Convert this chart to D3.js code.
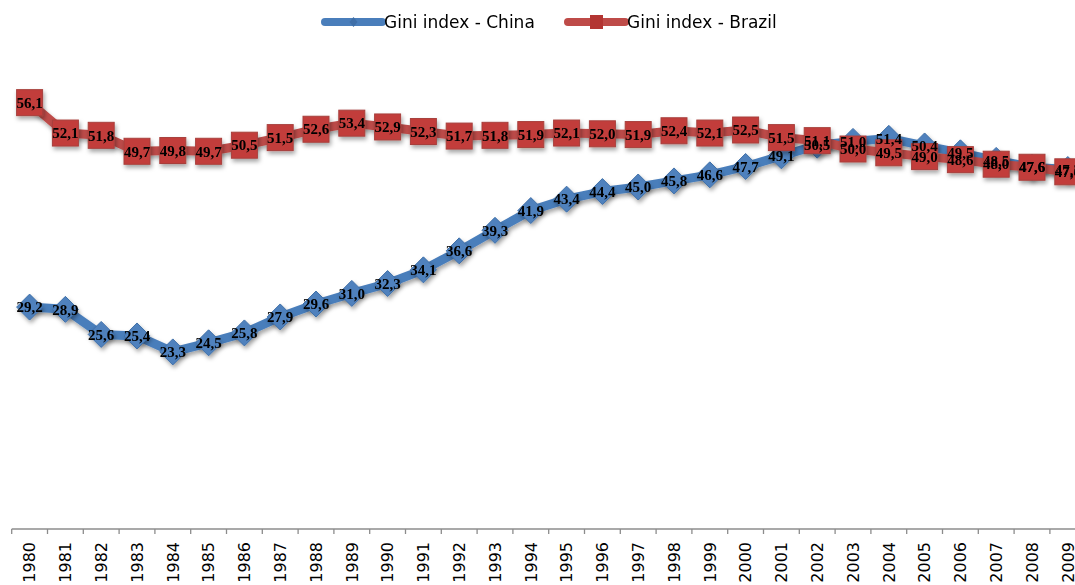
<!DOCTYPE html>
<html>
<head>
<meta charset="utf-8">
<script src="https://cdn.jsdelivr.net/npm/d3@7"></script>
<style>
  body { margin: 0; background: #fff; overflow: hidden; }
  svg { display: block; }
</style>
</head>
<body>
<div id="chart"></div>
<script>
const years = ["1980","1981","1982","1983","1984","1985","1986","1987","1988","1989",
  "1990","1991","1992","1993","1994","1995","1996","1997","1998","1999",
  "2000","2001","2002","2003","2004","2005","2006","2007","2008","2009"];
const giniChina = [29.2,28.9,25.6,25.4,23.3,24.5,25.8,27.9,29.6,31.0,
  32.3,34.1,36.6,39.3,41.9,43.4,44.4,45.0,45.8,46.6,
  47.7,49.1,50.5,51.0,51.4,50.4,49.5,48.5,47.6,47.3];
const giniBrazil = [56.1,52.1,51.8,49.7,49.8,49.7,50.5,51.5,52.6,53.4,
  52.9,52.3,51.7,51.8,51.9,52.1,52.0,51.9,52.4,52.1,
  52.5,51.5,51.1,50.0,49.5,49.0,48.6,48.0,47.6,47.0];
const seriesNames = ["Gini index - China", "Gini index - Brazil"];

const W = 1075, H = 585;
const svg = d3.select("#chart").append("svg")
    .attr("width", W)
    .attr("height", H);

const defs = svg.append("defs");
defs.append("filter").attr("id", "shadow")
    .attr("x", "-50%").attr("y", "-50%").attr("width", "200%").attr("height", "200%")
    .append("feDropShadow")
    .attr("dx", 1.5).attr("dy", 3).attr("stdDeviation", 2.2)
    .attr("flood-color", "#000").attr("flood-opacity", 0.35);

const x = d3.scaleBand().domain(years).range([11.7, 11.7 + 30 * 35.8]).padding(0);
const y = d3.scaleLinear().domain([0, 60]).range([529, 73]);
const cx = d => x(d) + x.bandwidth() / 2;

// x axis
const axis = svg.append("g").attr("transform", "translate(0,529)");
axis.append("line")
    .attr("x1", 11.7).attr("x2", W)
    .attr("stroke", "#8c8c8c").attr("stroke-width", 1.3);
axis.selectAll(".tk")
    .data(d3.range(years.length + 1))
    .enter().append("line")
    .attr("x1", i => 11.7 + i * x.bandwidth())
    .attr("x2", i => 11.7 + i * x.bandwidth())
    .attr("y1", 0).attr("y2", 5)
    .attr("stroke", "#8c8c8c").attr("stroke-width", 1.3);
axis.selectAll(".yl")
    .data(years)
    .enter().append("text")
    .attr("transform", d => `translate(${cx(d)},13) rotate(-90)`)
    .attr("dy", "0.36em")
    .attr("text-anchor", "end")
    .style("font-family", "DejaVu Sans")
    .style("font-size", "16px")
    .attr("fill", "#000")
    .text(d => d);

const series = [
  { name: seriesNames[0], values: giniChina, color: "#4a7ebb", fill: "#4f81bd", stroke: "#3f6fa8", shape: "diamond" },
  { name: seriesNames[1], values: giniBrazil, color: "#be4b48", fill: "#c23d3a", stroke: "#a8403d", shape: "square" }
];

const line = d3.line()
    .x((d, i) => cx(years[i]))
    .y(d => y(d));

series.forEach(s => {
  svg.append("path")
      .datum(s.values)
      .attr("fill", "none")
      .attr("stroke", s.color)
      .attr("stroke-width", 9)
      .attr("stroke-linejoin", "round")
      .attr("filter", "url(#shadow)")
      .attr("d", line);

  const g = svg.append("g").attr("filter", "url(#shadow)");
  if (s.shape === "diamond") {
    g.selectAll("path")
      .data(s.values)
      .enter().append("path")
      .attr("d", "M0,-13L13,0L0,13L-13,0Z")
      .attr("transform", (d, i) => `translate(${cx(years[i])},${y(d)})`)
      .attr("fill", s.fill)
      .attr("stroke", s.stroke)
      .attr("stroke-width", 1);
  } else {
    g.selectAll("rect")
      .data(s.values)
      .enter().append("rect")
      .attr("x", (d, i) => cx(years[i]) - 13)
      .attr("y", d => y(d) - 13)
      .attr("width", 26).attr("height", 26)
      .attr("fill", s.fill)
      .attr("stroke", s.stroke)
      .attr("stroke-width", 1);
  }
});

// data labels on top of everything
series.forEach(s => {
  svg.append("g").selectAll("text")
    .data(s.values)
    .enter().append("text")
    .attr("x", (d, i) => cx(years[i]))
    .attr("y", d => y(d))
    .attr("dy", "0.35em")
    .attr("text-anchor", "middle")
    .style("font-family", "Liberation Serif")
    .style("font-weight", "bold")
    .style("font-size", "15px")
    .attr("fill", "#000")
    .text(d => d3.format(".1f")(d).replace(".", ","));
});

// legend
const legend = [
  { s: series[0], x0: 325 },
  { s: series[1], x0: 568 }
];
legend.forEach(l => {
  const g = svg.append("g");
  g.append("line")
      .attr("x1", l.x0).attr("x2", l.x0 + 57)
      .attr("y1", 22).attr("y2", 22)
      .attr("stroke", l.s.color).attr("stroke-width", 8)
      .attr("stroke-linecap", "round");
  if (l.s.shape === "diamond") {
    g.append("path")
      .attr("d", "M0,-5L4,0L0,5L-4,0Z")
      .attr("transform", `translate(${l.x0 + 28.5},22)`)
      .attr("fill", "#3f6fa8");
  } else {
    g.append("rect")
      .attr("x", l.x0 + 22).attr("y", 15)
      .attr("width", 13).attr("height", 14)
      .attr("fill", "#b33532");
  }
  g.append("text")
      .attr("x", l.x0 + 59).attr("y", 22)
      .attr("dy", "0.35em")
      .style("font-family", "DejaVu Sans")
      .style("font-size", "17px")
      .attr("fill", "#000")
      .text(l.s.name);
});
</script>
</body>
</html>
